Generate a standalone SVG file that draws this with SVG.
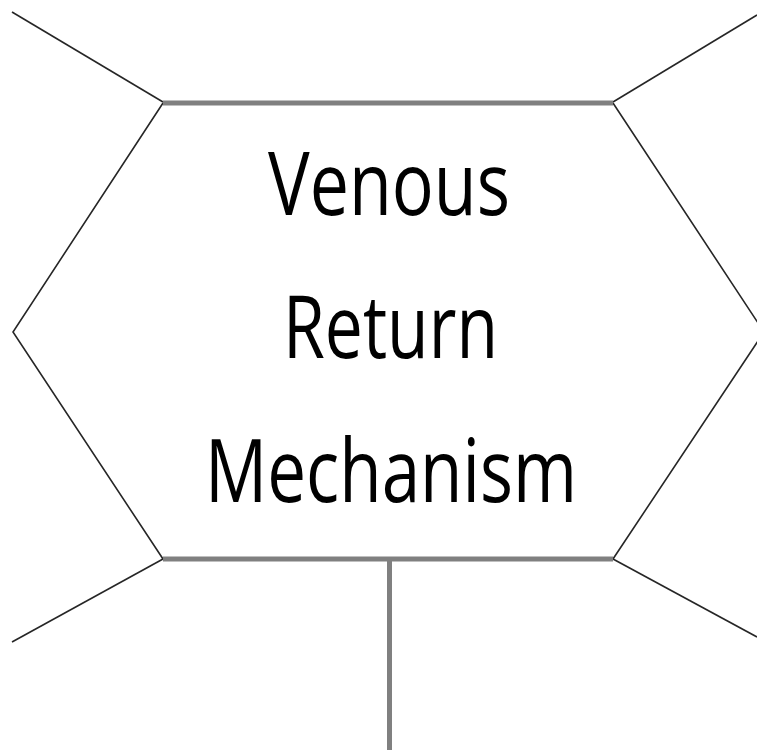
<svg xmlns="http://www.w3.org/2000/svg" width="757" height="751" viewBox="0 0 757 751">
<style>
.thin{stroke:#262626;stroke-width:1.6;fill:none}
.thick{stroke:#808080;stroke-width:5;fill:none}
.lbl{font-family:"Open Sans","Liberation Sans",sans-serif;font-size:88px;fill:#000;text-anchor:middle}
</style>
<rect width="757" height="751" fill="#fff"/>
<g id="connectors">
<line class="thin" x1="12" y1="12" x2="163" y2="102"/>
<line class="thin" x1="613" y1="102" x2="757" y2="15"/>
<line class="thin" x1="163" y1="559" x2="12" y2="642"/>
<line class="thin" x1="613" y1="559" x2="757" y2="637"/>
<line class="thick" x1="389.5" y1="559" x2="389.5" y2="750"/>
</g>
<g id="hexagon">
<polyline class="thin" points="163,103 13,332 163,559"/>
<polyline class="thin" points="613,103 764,332 613,559"/>
<line class="thick" x1="163" y1="103" x2="613" y2="103"/>
<line class="thick" x1="163" y1="559" x2="613" y2="559"/>
<text class="lbl" x="389" y="215" textLength="242" lengthAdjust="spacingAndGlyphs">Venous</text>
<text class="lbl" x="390.5" y="358" textLength="215" lengthAdjust="spacingAndGlyphs">Return</text>
<text class="lbl" x="391" y="502" textLength="372" lengthAdjust="spacingAndGlyphs">Mechanism</text>
</g>
</svg>
